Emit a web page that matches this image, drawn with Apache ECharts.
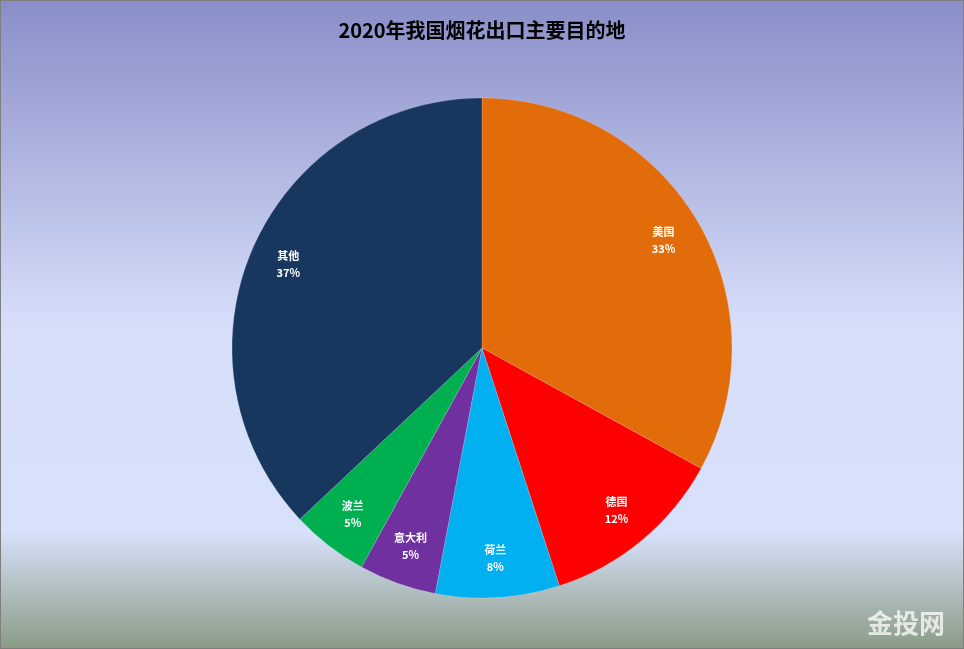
<!DOCTYPE html>
<html><head><meta charset="utf-8">
<script src="https://cdn.jsdelivr.net/npm/echarts@6/dist/echarts.min.js"></script>
<style>html,body{margin:0;padding:0;}#c{width:964px;height:649px;box-sizing:border-box;border:1px solid #7f7f7f;}</style>
</head><body><div id="c"></div>
<script>
const categories = ['美国','德国','荷兰','意大利','波兰','其他'];
const values = [33,12,8,5,5,37];
const colors = ['#e36c0a','#ff0000','#00b0f0','#7030a0','#00b050','#17375e'];
const data = categories.map((n,i)=>({name:n,value:values[i],itemStyle:{color:colors[i]}}));
const chart = echarts.init(document.getElementById('c'));
chart.setOption({
  backgroundColor:{type:'linear',x:0,y:0,x2:0,y2:1,colorStops:[
    {offset:0,color:'#8a8ec8'},{offset:0.5,color:'#d6defa'},{offset:0.82,color:'#d8e1fb'},{offset:1,color:'#8a9c86'}]},
  title:{text:'2020年我国烟花出口主要目的地',left:'center',top:14,
    textStyle:{fontSize:20,fontWeight:'bold',color:'#000',fontFamily:'Noto Sans CJK SC'}},
  graphic:[{type:'text',right:18,bottom:12,style:{text:'金投网',fontSize:26,fontWeight:'bold',fill:'rgba(255,255,255,0.75)',fontFamily:'Noto Sans CJK SC'}}],
  series:[
    {type:'pie',center:[481,347],radius:[0,250],startAngle:90,clockwise:true,
     data:data,label:{show:false},labelLine:{show:false},
     itemStyle:{borderColor:'rgba(255,255,255,0.3)',borderWidth:0.5}},
    {type:'pie',center:[481,347],radius:[166,250],startAngle:90,clockwise:true,silent:true,
     data:data.map(d=>({name:d.name,value:d.value,itemStyle:{color:'rgba(0,0,0,0)'}})),
     label:{show:true,position:'inside',formatter:'{b}\n{d}%',color:'#fff',fontWeight:'bold',
       fontSize:11,lineHeight:17,fontFamily:'Noto Sans CJK SC'},labelLine:{show:false}}
  ]
});
</script></body></html>
